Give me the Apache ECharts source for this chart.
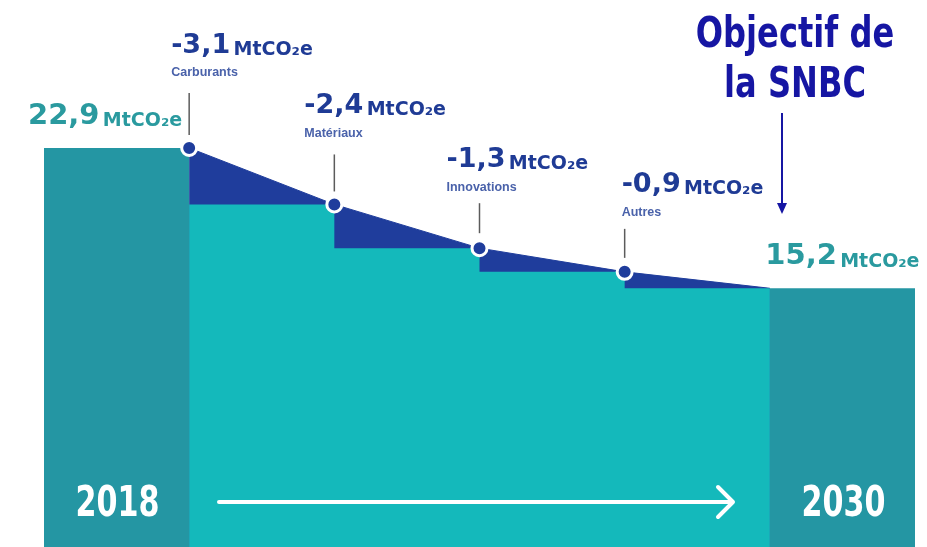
<!DOCTYPE html>
<html><head><meta charset="utf-8">
<script src="https://cdn.jsdelivr.net/npm/echarts@6/dist/echarts.min.js"></script>
<style>html,body{margin:0;padding:0;background:#fff}#c{width:927px;height:547px}</style>
</head><body><div id="c"></div>
<script>
// ---- data ----
const stepNames = ['Carburants', 'Matériaux', 'Innovations', 'Autres'];
const reductions = [-3.1, -2.4, -1.3, -0.9];
const yearLabels = ['2018', '2030'];
const yearValues = [22.9, 15.2];
const unitLabel = 'MtCO₂e';
const targetLabel = 'Objectif de\nla SNBC';

// ---- styles ----
const BAR = '#2496a3';
const TEAL = '#14b9bb';
const BLUE = '#1f3d9c';
const DELTA_TXT = '#1f3b95';
const SMALL_TXT = '#4a62aa';
const VAL_TXT = '#2a9a9f';
const NAVY = '#1616a3';
const BOLD = "'DejaVu Sans', sans-serif";
const NARROW = "'DejaVu Sans Condensed', 'DejaVu Sans', sans-serif";

// annotation layout (pixel offsets relative to each point)
const annLayout = [
  { dx: -18, big: -104, small: -75, line: [-55, -13] },
  { dx: -30, big: -101, small: -71, line: [-50, -13] },
  { dx: -33, big: -91, small: -61, line: [-45, -15] },
  { dx: -3, big: -89, small: -59, line: [-43, -14] }
];

const fmt = v => v.toFixed(1).replace('.', ',');

// cumulative levels
const levels = [yearValues[0]];
reductions.forEach(r => levels.push(Math.round((levels[levels.length - 1] + r) * 10) / 10));

const slopeData = levels.map((v, i) => [i + 1, v]);
const stepData = levels.slice(1).map((v, i) => [i + 1, v]).concat([[levels.length, levels[levels.length - 1]]]);
const pointData = levels.slice(0, reductions.length).map((v, i) => [i + 1, v]);
const barData = [[0, yearValues[0]], [levels.length, yearValues[1]]];
const annData = reductions.map((r, i) => [i + 1, levels[i], r]);

const chart = echarts.init(document.getElementById('c'), null, { renderer: 'canvas' });
chart.setOption({
  animation: false,
  backgroundColor: '#ffffff',
  grid: { left: 44, right: 12, top: 18.6, bottom: 0 },
  xAxis: { type: 'value', min: 0, max: 6, show: false },
  yAxis: { type: 'value', min: 1, max: 30, show: false },
  series: [
    {
      type: 'custom',
      z: 2,
      data: barData,
      renderItem(params, api) {
        const i = params.dataIndex;
        const x0 = api.value(0), v = api.value(1);
        const tl = api.coord([x0, v]);
        const br = api.coord([x0 + 1, 0]);
        const cx = (tl[0] + br[0]) / 2;
        return {
          type: 'group',
          children: [
            { type: 'rect', shape: { x: tl[0], y: tl[1], width: br[0] - tl[0], height: br[1] - tl[1] }, style: { fill: BAR } },
            {
              type: 'text', x: i === 0 ? br[0] - 7 : cx, y: tl[1] - 34,
              style: {
                text: '{v|' + fmt(v) + '} {u|' + unitLabel + '}',
                align: i === 0 ? 'right' : 'center', verticalAlign: 'middle',
                rich: {
                  v: { fontSize: 29, fontWeight: 'bold', fontFamily: BOLD, fill: VAL_TXT, verticalAlign: 'bottom', lineHeight: 34 },
                  u: { fontSize: 19, fontWeight: 'bold', fontFamily: BOLD, fill: VAL_TXT, verticalAlign: 'bottom', lineHeight: 28 }
                }
              }
            },
            {
              type: 'text', x: cx + 1, y: api.getHeight() - 42, scaleX: 0.78,
              style: { text: yearLabels[i], fill: '#ffffff', fontSize: 43, fontWeight: 'bold', fontFamily: NARROW, align: 'center', verticalAlign: 'middle' }
            }
          ]
        };
      }
    },
    {
      type: 'line', z: 3, data: slopeData, symbol: 'none',
      lineStyle: { color: BLUE, width: 1 },
      areaStyle: { color: BLUE, opacity: 1, origin: 'start' }
    },
    {
      type: 'line', z: 4, data: stepData, step: 'end', symbol: 'none',
      lineStyle: { width: 0, color: TEAL },
      areaStyle: { color: TEAL, opacity: 1, origin: 'start' }
    },
    {
      type: 'custom', z: 5, data: annData,
      renderItem(params, api) {
        const i = params.dataIndex;
        const p = api.coord([api.value(0), api.value(1)]);
        const L = annLayout[i];
        return {
          type: 'group',
          children: [
            { type: 'line', shape: { x1: p[0], y1: p[1] + L.line[1], x2: p[0], y2: p[1] + L.line[0] }, style: { stroke: '#5c5c5c', lineWidth: 1.5 } },
            {
              type: 'text', x: p[0] + L.dx, y: p[1] + L.small,
              style: { text: stepNames[i], fill: SMALL_TXT, fontSize: 12.5, fontWeight: 'bold', fontFamily: "'Liberation Sans', sans-serif", align: 'left', verticalAlign: 'middle' }
            },
            {
              type: 'text', x: p[0] + L.dx, y: p[1] + L.big,
              style: {
                text: '{v|' + fmt(api.value(2)) + '} {u|' + unitLabel + '}',
                align: 'left', verticalAlign: 'middle',
                rich: {
                  v: { fontSize: 27, fontWeight: 'bold', fontFamily: BOLD, fill: DELTA_TXT, verticalAlign: 'bottom', lineHeight: 32 },
                  u: { fontSize: 19, fontWeight: 'bold', fontFamily: BOLD, fill: DELTA_TXT, verticalAlign: 'bottom', lineHeight: 27 }
                }
              }
            }
          ]
        };
      }
    },
    {
      type: 'scatter', z: 6, data: pointData, symbol: 'circle', symbolSize: 15,
      itemStyle: { color: BLUE, borderColor: '#ffffff', borderWidth: 3, opacity: 1 }
    }
  ],
  graphic: [
    { type: 'text', x: 795, y: 11, z: 10, scaleX: 0.85, style: { text: targetLabel, fill: NAVY, fontSize: 42, fontWeight: 'bold', fontFamily: NARROW, align: 'center', lineHeight: 50 } },
    { type: 'line', z: 10, shape: { x1: 782, y1: 113, x2: 782, y2: 206 }, style: { stroke: NAVY, lineWidth: 2 } },
    { type: 'polygon', z: 10, shape: { points: [[777, 203], [787, 203], [782, 214]] }, style: { fill: NAVY } },
    { type: 'line', z: 10, shape: { x1: 219, y1: 502, x2: 731, y2: 502 }, style: { stroke: '#ffffff', lineWidth: 4, lineCap: 'round' } },
    { type: 'polyline', z: 10, shape: { points: [[718, 487], [733, 502], [718, 517]] }, style: { stroke: '#ffffff', lineWidth: 4, lineCap: 'round', lineJoin: 'round', fill: null } }
  ]
});
</script></body></html>
